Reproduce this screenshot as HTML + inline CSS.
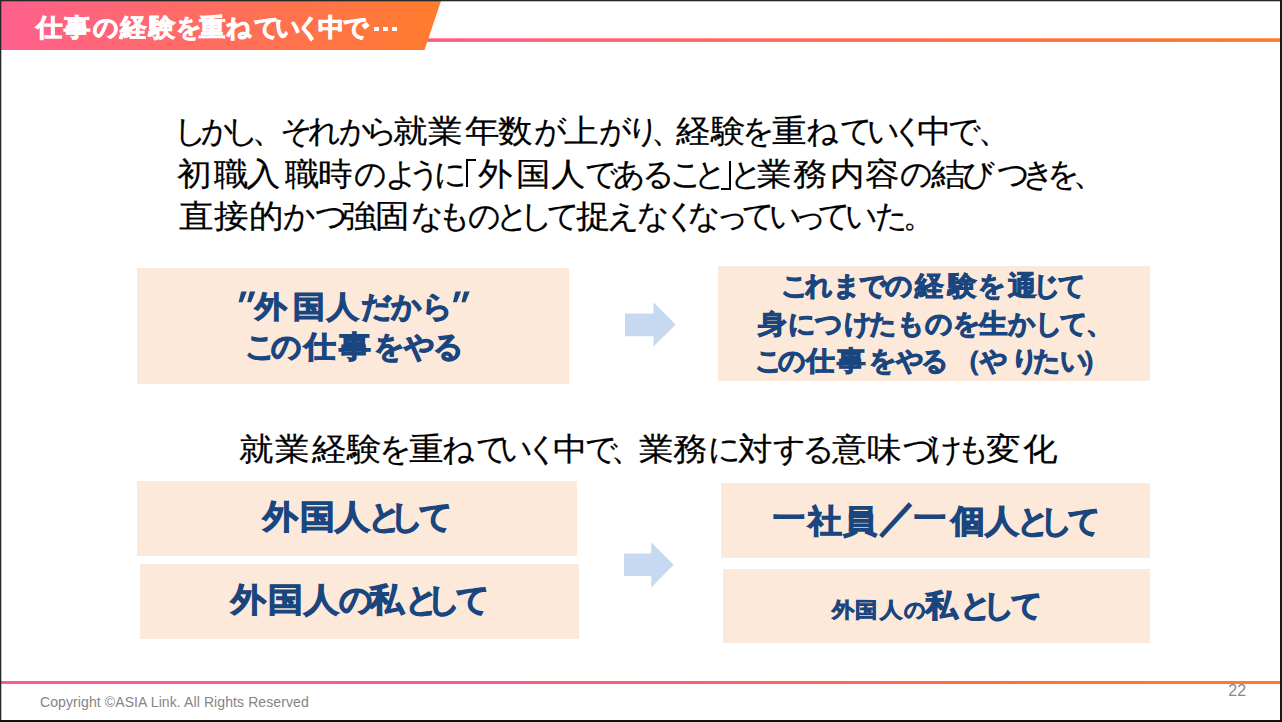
<!DOCTYPE html>
<html><head><meta charset="utf-8"><style>
html,body{margin:0;padding:0;}
body{width:1282px;height:722px;position:relative;overflow:hidden;background:#fff;font-family:"Liberation Sans",sans-serif;}
.t{position:absolute;white-space:nowrap;line-height:1;}
.g{position:absolute;left:0;line-height:1;white-space:nowrap;}
.g span{position:absolute;top:0;}
.box{position:absolute;background:#fde9d9;}
.fr{position:absolute;background:#232927;}
.dot{position:absolute;background:#fff;width:4.9px;height:4.9px;top:26.5px;}
</style></head><body>
<svg style="position:absolute;left:0;top:0" width="1282" height="722">
<defs>
<linearGradient id="bg" x1="0" y1="0" x2="441" y2="0" gradientUnits="userSpaceOnUse">
<stop offset="0" stop-color="#ff5f8f"/><stop offset="1" stop-color="#ff7c2c"/></linearGradient>
<linearGradient id="tl" x1="424" y1="0" x2="1282" y2="0" gradientUnits="userSpaceOnUse">
<stop offset="0" stop-color="#ff5a86"/><stop offset="1" stop-color="#ff7a22"/></linearGradient>
<linearGradient id="bl" x1="0" y1="0" x2="1282" y2="0" gradientUnits="userSpaceOnUse">
<stop offset="0" stop-color="#ff5a90"/><stop offset="0.5" stop-color="#ff5a80"/><stop offset="0.9" stop-color="#ff7a22"/><stop offset="1" stop-color="#ff7a22"/></linearGradient>
</defs>
<rect x="424" y="38.3" width="858" height="3.6" fill="url(#tl)"/>
<polygon points="1,1 441,1 424.5,50 1,50" fill="url(#bg)"/>
<rect x="1" y="681" width="1281" height="3" fill="url(#bl)"/>
<rect x="137" y="268" width="432" height="116" fill="#fde9d9"/>
<rect x="718" y="266" width="432" height="115" fill="#fde9d9"/>
<rect x="137" y="481" width="440" height="75" fill="#fde9d9"/>
<rect x="140" y="564" width="439" height="75" fill="#fde9d9"/>
<rect x="721" y="483" width="429" height="75" fill="#fde9d9"/>
<rect x="723" y="569" width="427" height="74" fill="#fde9d9"/>
<polygon points="625,313.5 653.5,313.5 653.5,302.5 675.7,324.5 653.5,346.5 653.5,336.3 625,336.3" fill="#c6d9f1"/>
<polygon points="624,553.5 651.2,553.5 651.2,542.3 673.6,564.8 651.2,587.4 651.2,576 624,576" fill="#c6d9f1"/>
<g fill="#1a4680">
<polygon points="241.2,291.6 246.8,291.6 242.5,302.2 238.6,302.2"/>
<polygon points="249.8,291.6 255.4,291.6 251.1,302.2 247.2,302.2"/>
<polygon points="455.5,291.6 461.1,291.6 456.8,302.2 452.9,302.2"/>
<polygon points="464.1,291.6 469.7,291.6 465.4,302.2 461.5,302.2"/>
</g>
</svg>
<div class="dot" style="left:373.8px"></div><div class="dot" style="left:383.1px"></div><div class="dot" style="left:392.4px"></div>
<div class="g" style="top:14.7px;font-size:25px;color:#ffffff;font-weight:bold;-webkit-text-stroke:0.8px #ffffff;"><span style="left:36.9px;transform:scaleX(1.06)">仕</span><span style="left:65.2px;transform:scaleX(1.06)">事</span><span style="left:92.7px">の</span><span style="left:120.5px;transform:scaleX(1.06)">経</span><span style="left:149.9px;transform:scaleX(1.06)">験</span><span style="left:175.9px">を</span><span style="left:200.4px;transform:scaleX(1.06)">重</span><span style="left:225.9px">ね</span><span style="left:253.9px">て</span><span style="left:274.5px">い</span><span style="left:295.5px">く</span><span style="left:318.5px;transform:scaleX(1.06)">中</span><span style="left:343.0px">で</span></div>
<div class="g" style="top:114.5px;font-size:32px;color:#000;-webkit-text-stroke:0.2px #000;"><span style="left:173.7px">し</span><span style="left:200.5px">か</span><span style="left:225.8px">し</span><span style="left:251.8px">、</span><span style="left:279.5px">そ</span><span style="left:308.0px">れ</span><span style="left:339.0px">か</span><span style="left:365.2px">ら</span><span style="left:394.2px;transform:scaleX(1.08)">就</span><span style="left:429.2px;transform:scaleX(1.08)">業</span><span style="left:465.8px;transform:scaleX(1.08)">年</span><span style="left:498.9px;transform:scaleX(1.08)">数</span><span style="left:533.8px">が</span><span style="left:565.2px;transform:scaleX(1.08)">上</span><span style="left:598.6px">が</span><span style="left:627.2px">り</span><span style="left:651.0px">、</span><span style="left:676.5px;transform:scaleX(1.08)">経</span><span style="left:711.6px;transform:scaleX(1.08)">験</span><span style="left:741.9px">を</span><span style="left:772.9px;transform:scaleX(1.08)">重</span><span style="left:806.3px">ね</span><span style="left:839.8px">て</span><span style="left:866.5px">い</span><span style="left:891.7px">く</span><span style="left:917.5px;transform:scaleX(1.08)">中</span><span style="left:948.4px">で</span><span style="left:978.3px">、</span></div>
<div class="g" style="top:158.0px;font-size:32px;color:#000;-webkit-text-stroke:0.2px #000;"><span style="left:178.4px;transform:scaleX(1.08)">初</span><span style="left:214.6px;transform:scaleX(1.08)">職</span><span style="left:247.2px;transform:scaleX(1.08)">入</span><span style="left:285.7px;transform:scaleX(1.08)">職</span><span style="left:318.9px;transform:scaleX(1.08)">時</span><span style="left:353.8px">の</span><span style="left:385.3px">よ</span><span style="left:408.3px">う</span><span style="left:434.0px">に</span><span style="left:479.3px;transform:scaleX(1.08)">外</span><span style="left:516.9px;transform:scaleX(1.08)">国</span><span style="left:552.4px;transform:scaleX(1.08)">人</span><span style="left:585.0px">で</span><span style="left:613.3px">あ</span><span style="left:642.0px">る</span><span style="left:669.8px">こ</span><span style="left:693.7px">と</span><span style="left:730.2px">と</span><span style="left:758.4px;transform:scaleX(1.08)">業</span><span style="left:793.5px;transform:scaleX(1.08)">務</span><span style="left:831.0px;transform:scaleX(1.08)">内</span><span style="left:866.3px;transform:scaleX(1.08)">容</span><span style="left:900.0px">の</span><span style="left:931.6px;transform:scaleX(1.08)">結</span><span style="left:962.1px">び</span><span style="left:996.6px">つ</span><span style="left:1021.9px">き</span><span style="left:1046.8px">を</span><span style="left:1073.2px">、</span></div>
<div class="g" style="top:200.0px;font-size:32px;color:#000;-webkit-text-stroke:0.2px #000;"><span style="left:179.9px;transform:scaleX(1.08)">直</span><span style="left:214.6px;transform:scaleX(1.08)">接</span><span style="left:249.7px;transform:scaleX(1.08)">的</span><span style="left:282.6px">か</span><span style="left:315.1px">つ</span><span style="left:342.8px;transform:scaleX(1.08)">強</span><span style="left:376.4px;transform:scaleX(1.08)">固</span><span style="left:410.5px">な</span><span style="left:438.3px">も</span><span style="left:467.6px">の</span><span style="left:496.4px">と</span><span style="left:520.2px">し</span><span style="left:547.1px">て</span><span style="left:576.7px;transform:scaleX(1.08)">捉</span><span style="left:606.9px">え</span><span style="left:636.9px">な</span><span style="left:663.5px">く</span><span style="left:687.6px">な</span><span style="left:715.6px">っ</span><span style="left:742.0px">て</span><span style="left:769.2px">い</span><span style="left:793.6px">っ</span><span style="left:818.4px">て</span><span style="left:845.0px">い</span><span style="left:874.5px">た</span><span style="left:902.9px">。</span></div>
<div class="g" style="top:291.7px;font-size:30px;color:#1a4680;font-weight:bold;-webkit-text-stroke:1.1px #1a4680;"><span style="left:255.9px;transform:scaleX(1.06)">外</span><span style="left:293.8px;transform:scaleX(1.06)">国</span><span style="left:328.2px;transform:scaleX(1.06)">人</span><span style="left:361.4px">だ</span><span style="left:391.2px">か</span><span style="left:422.1px">ら</span></div>
<div class="g" style="top:331.7px;font-size:30px;color:#1a4680;font-weight:bold;-webkit-text-stroke:1.1px #1a4680;"><span style="left:245.4px">こ</span><span style="left:271.1px">の</span><span style="left:304.8px;transform:scaleX(1.06)">仕</span><span style="left:339.9px;transform:scaleX(1.06)">事</span><span style="left:373.9px">を</span><span style="left:403.8px">や</span><span style="left:433.2px">る</span></div>
<div class="g" style="top:273.4px;font-size:27px;color:#1a4680;font-weight:bold;-webkit-text-stroke:1.0px #1a4680;"><span style="left:781.4px">こ</span><span style="left:804.6px">れ</span><span style="left:833.1px">ま</span><span style="left:858.6px">で</span><span style="left:884.6px">の</span><span style="left:916.0px;transform:scaleX(1.06)">経</span><span style="left:948.6px;transform:scaleX(1.06)">験</span><span style="left:978.1px">を</span><span style="left:1008.6px;transform:scaleX(1.06)">通</span><span style="left:1033.2px">じ</span><span style="left:1058.2px">て</span></div>
<div class="g" style="top:310.5px;font-size:27px;color:#1a4680;font-weight:bold;-webkit-text-stroke:1.0px #1a4680;"><span style="left:759.4px;transform:scaleX(1.06)">身</span><span style="left:787.6px">に</span><span style="left:815.2px">つ</span><span style="left:843.7px">け</span><span style="left:868.8px">た</span><span style="left:896.5px">も</span><span style="left:925.0px">の</span><span style="left:952.5px">を</span><span style="left:980.4px;transform:scaleX(1.06)">生</span><span style="left:1008.3px">か</span><span style="left:1034.8px">し</span><span style="left:1059.5px">て</span><span style="left:1086.4px">、</span></div>
<div class="g" style="top:348.0px;font-size:27px;color:#1a4680;font-weight:bold;-webkit-text-stroke:1.0px #1a4680;"><span style="left:754.7px">こ</span><span style="left:778.3px">の</span><span style="left:807.2px;transform:scaleX(1.06)">仕</span><span style="left:837.8px;transform:scaleX(1.06)">事</span><span style="left:868.5px">を</span><span style="left:895.6px">や</span><span style="left:920.5px">る</span><span style="left:953.5px">（</span><span style="left:979.9px">や</span><span style="left:1010.7px">り</span><span style="left:1032.6px">た</span><span style="left:1059.8px">い</span><span style="left:1082.3px">）</span></div>
<div class="g" style="top:432.6px;font-size:32px;color:#000;-webkit-text-stroke:0.2px #000;"><span style="left:240.3px;transform:scaleX(1.08)">就</span><span style="left:276.4px;transform:scaleX(1.08)">業</span><span style="left:312.5px;transform:scaleX(1.08)">経</span><span style="left:348.0px;transform:scaleX(1.08)">験</span><span style="left:378.7px">を</span><span style="left:409.5px;transform:scaleX(1.08)">重</span><span style="left:441.8px">ね</span><span style="left:476.4px">て</span><span style="left:500.4px">い</span><span style="left:526.1px">く</span><span style="left:554.3px;transform:scaleX(1.08)">中</span><span style="left:585.1px">で</span><span style="left:611.2px">、</span><span style="left:640.1px;transform:scaleX(1.08)">業</span><span style="left:674.2px;transform:scaleX(1.08)">務</span><span style="left:707.9px">に</span><span style="left:738.8px;transform:scaleX(1.08)">対</span><span style="left:773.3px">す</span><span style="left:802.0px">る</span><span style="left:832.7px;transform:scaleX(1.08)">意</span><span style="left:867.8px;transform:scaleX(1.08)">味</span><span style="left:902.5px">づ</span><span style="left:930.3px">け</span><span style="left:956.7px">も</span><span style="left:987.0px;transform:scaleX(1.08)">変</span><span style="left:1023.9px;transform:scaleX(1.08)">化</span></div>
<div class="g" style="top:501.0px;font-size:32.5px;color:#1a4680;font-weight:bold;-webkit-text-stroke:1.1px #1a4680;"><span style="left:263.5px;transform:scaleX(1.06)">外</span><span style="left:301.3px;transform:scaleX(1.06)">国</span><span style="left:335.9px;transform:scaleX(1.06)">人</span><span style="left:368.4px">と</span><span style="left:390.4px">し</span><span style="left:419.1px">て</span></div>
<div class="g" style="top:583.7px;font-size:32.5px;color:#1a4680;font-weight:bold;-webkit-text-stroke:1.1px #1a4680;"><span style="left:231.6px;transform:scaleX(1.06)">外</span><span style="left:269.0px;transform:scaleX(1.06)">国</span><span style="left:304.6px;transform:scaleX(1.06)">人</span><span style="left:338.9px">の</span><span style="left:370.3px;transform:scaleX(1.06)">私</span><span style="left:404.8px">と</span><span style="left:427.2px">し</span><span style="left:455.5px">て</span></div>
<div class="g" style="top:504.6px;font-size:32px;color:#1a4680;font-weight:bold;-webkit-text-stroke:1.1px #1a4680;"><span style="left:773.1px;top:-2.6px;">一</span><span style="left:808.7px;transform:scaleX(1.06)">社</span><span style="left:843.7px;transform:scaleX(1.06)">員</span><span style="left:881.2px;top:-3.2px;transform:scale(1.15);">／</span><span style="left:914.0px;top:-2.6px;">一</span><span style="left:951.5px;transform:scaleX(1.06)">個</span><span style="left:986.0px;transform:scaleX(1.06)">人</span><span style="left:1017.1px">と</span><span style="left:1040.0px">し</span><span style="left:1068.2px">て</span></div>
<div class="g" style="top:598.7px;font-size:21px;color:#1a4680;font-weight:bold;-webkit-text-stroke:0.8px #1a4680;"><span style="left:833.3px;transform:scaleX(1.06)">外</span><span style="left:856.1px;transform:scaleX(1.06)">国</span><span style="left:881.0px;transform:scaleX(1.06)">人</span><span style="left:904.1px">の</span></div>
<div class="g" style="top:590.3px;font-size:30.5px;color:#1a4680;font-weight:bold;-webkit-text-stroke:1.1px #1a4680;"><span style="left:925.5px;transform:scaleX(1.06)">私</span><span style="left:960.3px">と</span><span style="left:982.6px">し</span><span style="left:1010.8px">て</span></div>
<div style="position:absolute;left:465.9px;top:158.5px;width:8.5px;height:26.8px;border-left:2.4px solid #000;border-top:2.3px solid #000"></div>
<div style="position:absolute;left:720.9px;top:160.7px;width:8.5px;height:27.4px;border-right:2.4px solid #000;border-bottom:2.3px solid #000"></div>
<div class="t" style="left:40px;top:695.3px;font-size:14px;letter-spacing:0.1px;color:#858585">Copyright ©ASIA Link. All Rights Reserved</div>
<div class="t" style="left:1228.3px;top:682.6px;font-size:16px;color:#8a8a8a">22</div>
<svg style="position:absolute;left:0;top:0" width="1282" height="722"><rect x="0" y="0" width="1282" height="1.3" fill="#232927"/><rect x="0" y="0" width="1.3" height="722" fill="#232927"/></svg>
<div class="fr" style="left:1280px;top:0;width:2px;height:722px;background:#1a1a1a"></div>
<div class="fr" style="left:0;top:720px;width:1282px;height:2px;background:#111"></div>
</body></html>
